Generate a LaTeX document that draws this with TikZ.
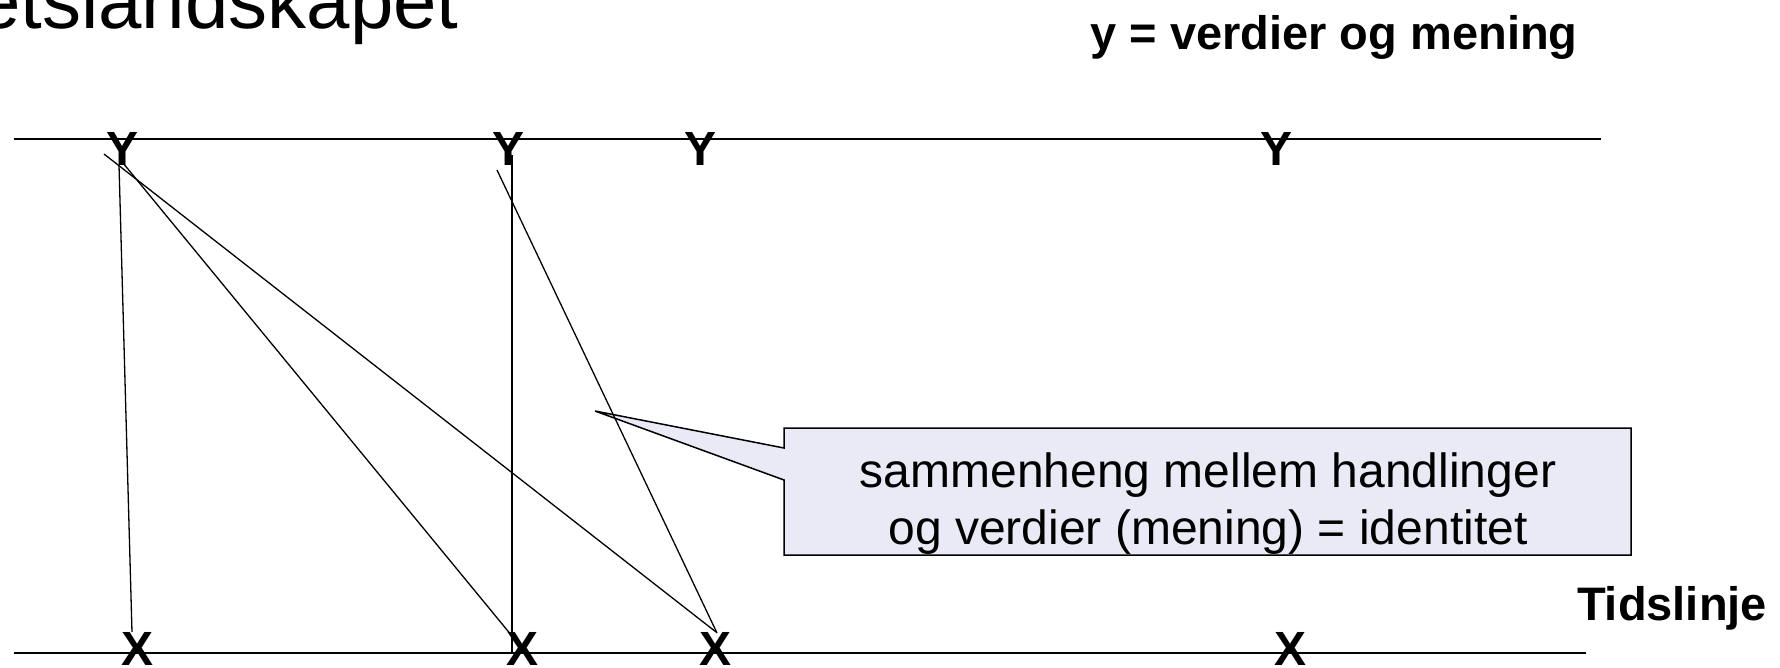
\documentclass[tikz,border=0pt]{standalone}
\usepackage{fontspec}
\setmainfont{Liberation Sans}
\definecolor{notefill}{RGB}{234,234,246}
\begin{document}
\begin{tikzpicture}[x=1pt,y=-1pt,
  letter/.style={font=\fontsize{48}{56}\selectfont\bfseries, inner sep=0pt, anchor=base},
  heading/.style={font=\fontsize{47}{56}\selectfont\bfseries, inner sep=0pt, anchor=base},
  notetext/.style={font=\fontsize{48}{56}\selectfont, inner sep=0pt, anchor=base},
  link/.style={draw=black, line width=1.3pt},
  axis/.style={draw=black, line width=1.6pt}]
\useasboundingbox (0,0) rectangle (1780,667);

% heading text
\node[font=\fontsize{78}{90}\selectfont, inner sep=0pt, anchor=base west] (title) at (-23,28) {etslandskapet};
\node[heading] (ylabel) at (1334,49) {y = verdier og mening};
\node[heading] (tlabel) at (1672,620) {Tidslinje};

% the two lines
\coordinate (topL) at (14,139);
\coordinate (topR) at (1601,139);
\coordinate (botL) at (14,653);
\coordinate (botR) at (1586,653);
\draw[axis] (topL) -- (topR);
\draw[axis, line width=2.2pt] (botL) -- (botR);

% values on the upper line
\node[letter] (Y1) at (123,165) {Y};
\node[letter] (Y2) at (509,165) {Y};
\node[letter] (Y3) at (700,165) {Y};
\node[letter] (Y4) at (1276,165) {Y};

% actions on the lower line
\node[letter] (X1) at (138,665) {X};
\node[letter] (X2) at (523,665) {X};
\node[letter] (X3) at (715,665) {X};
\node[letter] (X4) at (1290,665) {X};

% callout
\coordinate (tip) at (595,411);
\coordinate (nA) at (784,428);
\coordinate (nB) at (1631,428);
\coordinate (nC) at (1631,555);
\coordinate (nD) at (784,555);
\coordinate (nE) at (784,480);
\coordinate (nF) at (784,448);
\draw[fill=notefill, draw=black, line width=1.5pt, line join=miter]
  (nA) -- (nB) -- (nC) -- (nD) -- (nE) -- (tip) -- (nF) -- cycle;
\node[notetext] (note1) at (1208,487) {sammenheng mellem handlinger};
\node[notetext] (note2) at (1208,544) {og verdier (mening) = identitet};

% connectors between values and actions
\coordinate (a1) at (119,165);
\coordinate (b1) at (132,632);
\coordinate (a2) at (123,163);
\coordinate (b2) at (512,636);
\coordinate (a3) at (104,154);
\coordinate (b3) at (716,632);
\coordinate (a4) at (512,155);
\coordinate (b4) at (512,653);
\coordinate (a5) at (497,170);
\coordinate (b5) at (717,633);
\draw[link] (a1) -- (b1);
\draw[link] (a2) -- (b2);
\draw[link] (a3) -- (b3);
\draw[link] (a4) -- (b4);
\draw[link] (a5) -- (b5);
\end{tikzpicture}
\end{document}
